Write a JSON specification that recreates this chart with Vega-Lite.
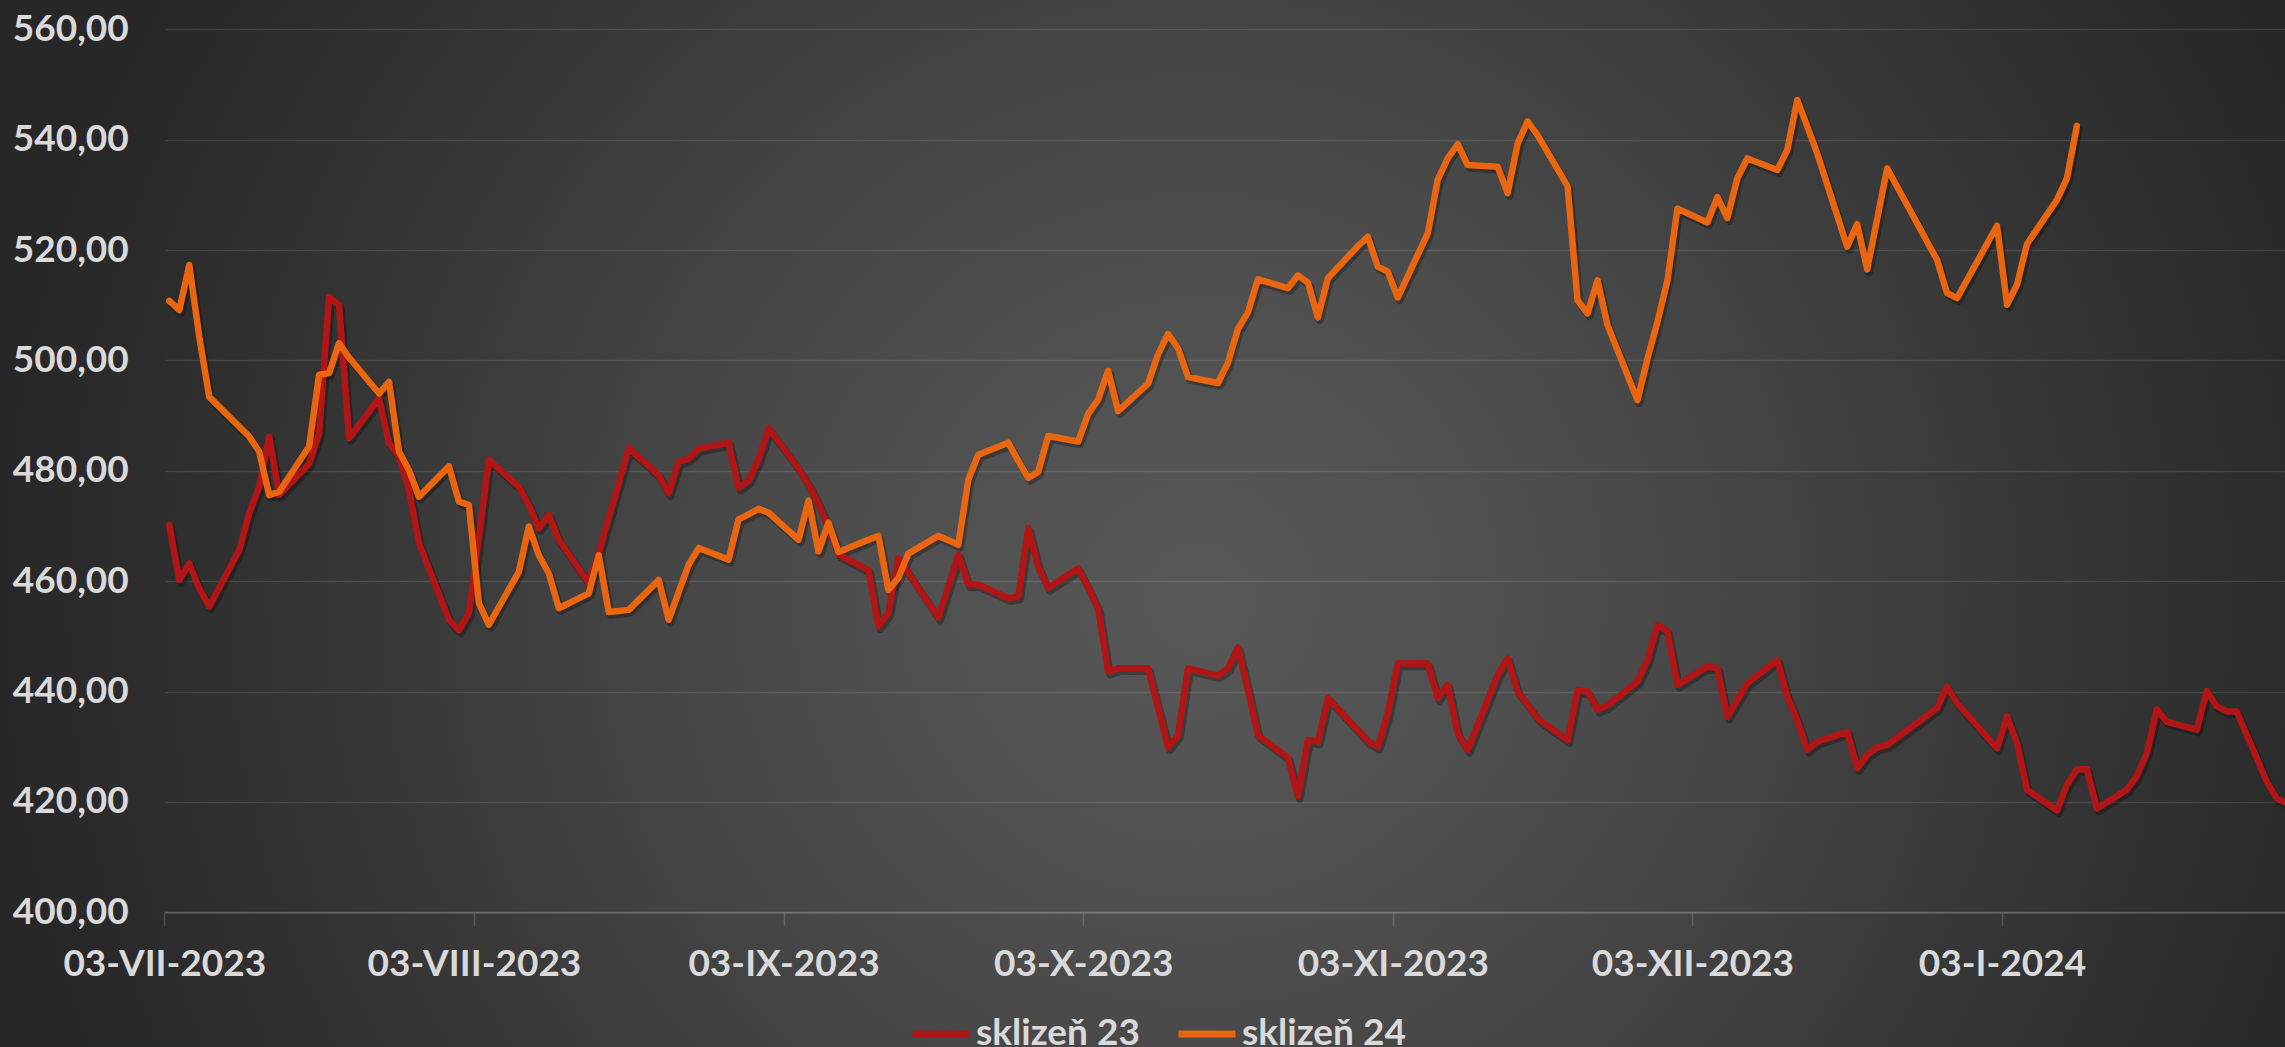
{
"$schema": "https://vega.github.io/schema/vega-lite/v6.json",
"width": 2285,
"height": 1047,
"autosize": {"type": "none"},
"padding": 0,
"background": "#2a2a2a",
"view": {"stroke": null, "fill": {"gradient": "radial", "x1": 0.525, "y1": 0.533, "r1": 0, "x2": 0.525, "y2": 0.533, "r2": 0.525, "stops": [
  {"offset": 0, "color": "#585858"},
  {"offset": 0.24, "color": "#505050"},
  {"offset": 0.34, "color": "#4b4b4b"},
  {"offset": 0.49, "color": "#434343"},
  {"offset": 0.61, "color": "#3c3c3c"},
  {"offset": 0.73, "color": "#353535"},
  {"offset": 0.92, "color": "#2b2b2b"},
  {"offset": 1, "color": "#272727"}]}},
"data": {"values": [
{"date":"2023-07-03","series":"sklizeň 23","value":470.2},
{"date":"2023-07-04","series":"sklizeň 23","value":460.2},
{"date":"2023-07-05","series":"sklizeň 23","value":463.2},
{"date":"2023-07-06","series":"sklizeň 23","value":458.7},
{"date":"2023-07-07","series":"sklizeň 23","value":455.4},
{"date":"2023-07-10","series":"sklizeň 23","value":465.6},
{"date":"2023-07-11","series":"sklizeň 23","value":472.3},
{"date":"2023-07-12","series":"sklizeň 23","value":477.1},
{"date":"2023-07-13","series":"sklizeň 23","value":486.2},
{"date":"2023-07-14","series":"sklizeň 23","value":475.6},
{"date":"2023-07-17","series":"sklizeň 23","value":481.3},
{"date":"2023-07-18","series":"sklizeň 23","value":486.8},
{"date":"2023-07-19","series":"sklizeň 23","value":511.5},
{"date":"2023-07-20","series":"sklizeň 23","value":510},
{"date":"2023-07-21","series":"sklizeň 23","value":485.9},
{"date":"2023-07-24","series":"sklizeň 23","value":493.1},
{"date":"2023-07-25","series":"sklizeň 23","value":485},
{"date":"2023-07-26","series":"sklizeň 23","value":482.6},
{"date":"2023-07-27","series":"sklizeň 23","value":476.5},
{"date":"2023-07-28","series":"sklizeň 23","value":466.9},
{"date":"2023-07-31","series":"sklizeň 23","value":453},
{"date":"2023-08-01","series":"sklizeň 23","value":451.1},
{"date":"2023-08-02","series":"sklizeň 23","value":454.2},
{"date":"2023-08-03","series":"sklizeň 23","value":468},
{"date":"2023-08-04","series":"sklizeň 23","value":482},
{"date":"2023-08-07","series":"sklizeň 23","value":477.1},
{"date":"2023-08-08","series":"sklizeň 23","value":473.8},
{"date":"2023-08-09","series":"sklizeň 23","value":469.6},
{"date":"2023-08-10","series":"sklizeň 23","value":472},
{"date":"2023-08-11","series":"sklizeň 23","value":467.5},
{"date":"2023-08-14","series":"sklizeň 23","value":459.6},
{"date":"2023-08-15","series":"sklizeň 23","value":465},
{"date":"2023-08-16","series":"sklizeň 23","value":471.5},
{"date":"2023-08-17","series":"sklizeň 23","value":477.7},
{"date":"2023-08-18","series":"sklizeň 23","value":484.1},
{"date":"2023-08-21","series":"sklizeň 23","value":479.2},
{"date":"2023-08-22","series":"sklizeň 23","value":475.9},
{"date":"2023-08-23","series":"sklizeň 23","value":481.6},
{"date":"2023-08-24","series":"sklizeň 23","value":482.2},
{"date":"2023-08-25","series":"sklizeň 23","value":484},
{"date":"2023-08-28","series":"sklizeň 23","value":485.1},
{"date":"2023-08-29","series":"sklizeň 23","value":476.9},
{"date":"2023-08-30","series":"sklizeň 23","value":478.2},
{"date":"2023-08-31","series":"sklizeň 23","value":482},
{"date":"2023-09-01","series":"sklizeň 23","value":487.7},
{"date":"2023-09-04","series":"sklizeň 23","value":480.4},
{"date":"2023-09-05","series":"sklizeň 23","value":477.5},
{"date":"2023-09-06","series":"sklizeň 23","value":474},
{"date":"2023-09-07","series":"sklizeň 23","value":469.8},
{"date":"2023-09-08","series":"sklizeň 23","value":464.8},
{"date":"2023-09-11","series":"sklizeň 23","value":462},
{"date":"2023-09-12","series":"sklizeň 23","value":451.8},
{"date":"2023-09-13","series":"sklizeň 23","value":454.3},
{"date":"2023-09-14","series":"sklizeň 23","value":464.2},
{"date":"2023-09-15","series":"sklizeň 23","value":461.5},
{"date":"2023-09-18","series":"sklizeň 23","value":453.4},
{"date":"2023-09-19","series":"sklizeň 23","value":459},
{"date":"2023-09-20","series":"sklizeň 23","value":464.8},
{"date":"2023-09-21","series":"sklizeň 23","value":459.4},
{"date":"2023-09-22","series":"sklizeň 23","value":459.4},
{"date":"2023-09-25","series":"sklizeň 23","value":456.9},
{"date":"2023-09-26","series":"sklizeň 23","value":457.2},
{"date":"2023-09-27","series":"sklizeň 23","value":469.6},
{"date":"2023-09-28","series":"sklizeň 23","value":462.6},
{"date":"2023-09-29","series":"sklizeň 23","value":458.8},
{"date":"2023-10-02","series":"sklizeň 23","value":462.3},
{"date":"2023-10-03","series":"sklizeň 23","value":458.8},
{"date":"2023-10-04","series":"sklizeň 23","value":455},
{"date":"2023-10-05","series":"sklizeň 23","value":443.6},
{"date":"2023-10-06","series":"sklizeň 23","value":444.2},
{"date":"2023-10-09","series":"sklizeň 23","value":444.2},
{"date":"2023-10-10","series":"sklizeň 23","value":437},
{"date":"2023-10-11","series":"sklizeň 23","value":429.9},
{"date":"2023-10-12","series":"sklizeň 23","value":432.1},
{"date":"2023-10-13","series":"sklizeň 23","value":444.2},
{"date":"2023-10-16","series":"sklizeň 23","value":442.9},
{"date":"2023-10-17","series":"sklizeň 23","value":444.2},
{"date":"2023-10-18","series":"sklizeň 23","value":448},
{"date":"2023-10-19","series":"sklizeň 23","value":440.2},
{"date":"2023-10-20","series":"sklizeň 23","value":432.1},
{"date":"2023-10-23","series":"sklizeň 23","value":428},
{"date":"2023-10-24","series":"sklizeň 23","value":421},
{"date":"2023-10-25","series":"sklizeň 23","value":431.2},
{"date":"2023-10-26","series":"sklizeň 23","value":430.9},
{"date":"2023-10-27","series":"sklizeň 23","value":438.8},
{"date":"2023-10-30","series":"sklizeň 23","value":433},
{"date":"2023-10-31","series":"sklizeň 23","value":431},
{"date":"2023-11-01","series":"sklizeň 23","value":430},
{"date":"2023-11-02","series":"sklizeň 23","value":436},
{"date":"2023-11-03","series":"sklizeň 23","value":445.1},
{"date":"2023-11-06","series":"sklizeň 23","value":445.1},
{"date":"2023-11-07","series":"sklizeň 23","value":438.8},
{"date":"2023-11-08","series":"sklizeň 23","value":441.2},
{"date":"2023-11-09","series":"sklizeň 23","value":432.4},
{"date":"2023-11-10","series":"sklizeň 23","value":429.4},
{"date":"2023-11-13","series":"sklizeň 23","value":443},
{"date":"2023-11-14","series":"sklizeň 23","value":446},
{"date":"2023-11-15","series":"sklizeň 23","value":440},
{"date":"2023-11-16","series":"sklizeň 23","value":437.6},
{"date":"2023-11-17","series":"sklizeň 23","value":435.1},
{"date":"2023-11-20","series":"sklizeň 23","value":431.2},
{"date":"2023-11-21","series":"sklizeň 23","value":440.3},
{"date":"2023-11-22","series":"sklizeň 23","value":440},
{"date":"2023-11-23","series":"sklizeň 23","value":436.7},
{"date":"2023-11-24","series":"sklizeň 23","value":437.5},
{"date":"2023-11-27","series":"sklizeň 23","value":441.8},
{"date":"2023-11-28","series":"sklizeň 23","value":445.7},
{"date":"2023-11-29","series":"sklizeň 23","value":452.1},
{"date":"2023-11-30","series":"sklizeň 23","value":450.9},
{"date":"2023-12-01","series":"sklizeň 23","value":441.2},
{"date":"2023-12-04","series":"sklizeň 23","value":444.6},
{"date":"2023-12-05","series":"sklizeň 23","value":444.2},
{"date":"2023-12-06","series":"sklizeň 23","value":435.4},
{"date":"2023-12-07","series":"sklizeň 23","value":438.5},
{"date":"2023-12-08","series":"sklizeň 23","value":441.5},
{"date":"2023-12-11","series":"sklizeň 23","value":445.7},
{"date":"2023-12-12","series":"sklizeň 23","value":439.1},
{"date":"2023-12-13","series":"sklizeň 23","value":434.8},
{"date":"2023-12-14","series":"sklizeň 23","value":429.4},
{"date":"2023-12-15","series":"sklizeň 23","value":430.9},
{"date":"2023-12-18","series":"sklizeň 23","value":432.7},
{"date":"2023-12-19","series":"sklizeň 23","value":426.1},
{"date":"2023-12-20","series":"sklizeň 23","value":428.5},
{"date":"2023-12-21","series":"sklizeň 23","value":429.9},
{"date":"2023-12-22","series":"sklizeň 23","value":430.3},
{"date":"2023-12-27","series":"sklizeň 23","value":437},
{"date":"2023-12-28","series":"sklizeň 23","value":440.9},
{"date":"2023-12-29","series":"sklizeň 23","value":437.9},
{"date":"2024-01-02","series":"sklizeň 23","value":429.7},
{"date":"2024-01-03","series":"sklizeň 23","value":435.5},
{"date":"2024-01-04","series":"sklizeň 23","value":430.7},
{"date":"2024-01-05","series":"sklizeň 23","value":422.2},
{"date":"2024-01-08","series":"sklizeň 23","value":418.5},
{"date":"2024-01-09","series":"sklizeň 23","value":423.1},
{"date":"2024-01-10","series":"sklizeň 23","value":425.9},
{"date":"2024-01-11","series":"sklizeň 23","value":425.9},
{"date":"2024-01-12","series":"sklizeň 23","value":418.8},
{"date":"2024-01-15","series":"sklizeň 23","value":422.2},
{"date":"2024-01-16","series":"sklizeň 23","value":424.7},
{"date":"2024-01-17","series":"sklizeň 23","value":428.8},
{"date":"2024-01-18","series":"sklizeň 23","value":436.8},
{"date":"2024-01-19","series":"sklizeň 23","value":434.5},
{"date":"2024-01-22","series":"sklizeň 23","value":433.1},
{"date":"2024-01-23","series":"sklizeň 23","value":440.1},
{"date":"2024-01-24","series":"sklizeň 23","value":437.3},
{"date":"2024-01-25","series":"sklizeň 23","value":436.4},
{"date":"2024-01-26","series":"sklizeň 23","value":436.4},
{"date":"2024-01-29","series":"sklizeň 23","value":423.7},
{"date":"2024-01-30","series":"sklizeň 23","value":420.6},
{"date":"2024-01-31","series":"sklizeň 23","value":419.8},
{"date":"2023-07-03","series":"sklizeň 24","value":510.8},
{"date":"2023-07-04","series":"sklizeň 24","value":509.1},
{"date":"2023-07-05","series":"sklizeň 24","value":517.3},
{"date":"2023-07-06","series":"sklizeň 24","value":504.3},
{"date":"2023-07-07","series":"sklizeň 24","value":493.4},
{"date":"2023-07-10","series":"sklizeň 24","value":488},
{"date":"2023-07-11","series":"sklizeň 24","value":486.2},
{"date":"2023-07-12","series":"sklizeň 24","value":483.5},
{"date":"2023-07-13","series":"sklizeň 24","value":475.6},
{"date":"2023-07-14","series":"sklizeň 24","value":476.2},
{"date":"2023-07-17","series":"sklizeň 24","value":484.4},
{"date":"2023-07-18","series":"sklizeň 24","value":497.4},
{"date":"2023-07-19","series":"sklizeň 24","value":497.7},
{"date":"2023-07-20","series":"sklizeň 24","value":503.1},
{"date":"2023-07-21","series":"sklizeň 24","value":500.5},
{"date":"2023-07-24","series":"sklizeň 24","value":494},
{"date":"2023-07-25","series":"sklizeň 24","value":496.1},
{"date":"2023-07-26","series":"sklizeň 24","value":483.5},
{"date":"2023-07-27","series":"sklizeň 24","value":480.1},
{"date":"2023-07-28","series":"sklizeň 24","value":475.3},
{"date":"2023-07-31","series":"sklizeň 24","value":480.8},
{"date":"2023-08-01","series":"sklizeň 24","value":474.4},
{"date":"2023-08-02","series":"sklizeň 24","value":473.8},
{"date":"2023-08-03","series":"sklizeň 24","value":456},
{"date":"2023-08-04","series":"sklizeň 24","value":452.1},
{"date":"2023-08-07","series":"sklizeň 24","value":461.7},
{"date":"2023-08-08","series":"sklizeň 24","value":469.9},
{"date":"2023-08-09","series":"sklizeň 24","value":464.7},
{"date":"2023-08-10","series":"sklizeň 24","value":461.4},
{"date":"2023-08-11","series":"sklizeň 24","value":455.1},
{"date":"2023-08-14","series":"sklizeň 24","value":457.8},
{"date":"2023-08-15","series":"sklizeň 24","value":464.7},
{"date":"2023-08-16","series":"sklizeň 24","value":454.4},
{"date":"2023-08-17","series":"sklizeň 24","value":454.6},
{"date":"2023-08-18","series":"sklizeň 24","value":454.8},
{"date":"2023-08-21","series":"sklizeň 24","value":460.2},
{"date":"2023-08-22","series":"sklizeň 24","value":453},
{"date":"2023-08-23","series":"sklizeň 24","value":458},
{"date":"2023-08-24","series":"sklizeň 24","value":463},
{"date":"2023-08-25","series":"sklizeň 24","value":466},
{"date":"2023-08-28","series":"sklizeň 24","value":463.9},
{"date":"2023-08-29","series":"sklizeň 24","value":471.2},
{"date":"2023-08-30","series":"sklizeň 24","value":472.1},
{"date":"2023-08-31","series":"sklizeň 24","value":473.1},
{"date":"2023-09-01","series":"sklizeň 24","value":472.4},
{"date":"2023-09-04","series":"sklizeň 24","value":467.5},
{"date":"2023-09-05","series":"sklizeň 24","value":474.6},
{"date":"2023-09-06","series":"sklizeň 24","value":465.4},
{"date":"2023-09-07","series":"sklizeň 24","value":470.6},
{"date":"2023-09-08","series":"sklizeň 24","value":465.3},
{"date":"2023-09-11","series":"sklizeň 24","value":467.5},
{"date":"2023-09-12","series":"sklizeň 24","value":468.2},
{"date":"2023-09-13","series":"sklizeň 24","value":458.4},
{"date":"2023-09-14","series":"sklizeň 24","value":460.6},
{"date":"2023-09-15","series":"sklizeň 24","value":465},
{"date":"2023-09-18","series":"sklizeň 24","value":468.2},
{"date":"2023-09-19","series":"sklizeň 24","value":467.4},
{"date":"2023-09-20","series":"sklizeň 24","value":466.6},
{"date":"2023-09-21","series":"sklizeň 24","value":478.4},
{"date":"2023-09-22","series":"sklizeň 24","value":482.9},
{"date":"2023-09-25","series":"sklizeň 24","value":485.1},
{"date":"2023-09-26","series":"sklizeň 24","value":481.8},
{"date":"2023-09-27","series":"sklizeň 24","value":478.7},
{"date":"2023-09-28","series":"sklizeň 24","value":479.8},
{"date":"2023-09-29","series":"sklizeň 24","value":486.3},
{"date":"2023-10-02","series":"sklizeň 24","value":485.3},
{"date":"2023-10-03","series":"sklizeň 24","value":490.3},
{"date":"2023-10-04","series":"sklizeň 24","value":492.9},
{"date":"2023-10-05","series":"sklizeň 24","value":498.1},
{"date":"2023-10-06","series":"sklizeň 24","value":490.8},
{"date":"2023-10-09","series":"sklizeň 24","value":495.8},
{"date":"2023-10-10","series":"sklizeň 24","value":501.1},
{"date":"2023-10-11","series":"sklizeň 24","value":504.8},
{"date":"2023-10-12","series":"sklizeň 24","value":502.2},
{"date":"2023-10-13","series":"sklizeň 24","value":497},
{"date":"2023-10-16","series":"sklizeň 24","value":495.9},
{"date":"2023-10-17","series":"sklizeň 24","value":499.6},
{"date":"2023-10-18","series":"sklizeň 24","value":505.7},
{"date":"2023-10-19","series":"sklizeň 24","value":508.7},
{"date":"2023-10-20","series":"sklizeň 24","value":514.7},
{"date":"2023-10-23","series":"sklizeň 24","value":513.1},
{"date":"2023-10-24","series":"sklizeň 24","value":515.4},
{"date":"2023-10-25","series":"sklizeň 24","value":514.1},
{"date":"2023-10-26","series":"sklizeň 24","value":507.8},
{"date":"2023-10-27","series":"sklizeň 24","value":514.9},
{"date":"2023-10-30","series":"sklizeň 24","value":520.7},
{"date":"2023-10-31","series":"sklizeň 24","value":522.4},
{"date":"2023-11-01","series":"sklizeň 24","value":517},
{"date":"2023-11-02","series":"sklizeň 24","value":516.1},
{"date":"2023-11-03","series":"sklizeň 24","value":511.4},
{"date":"2023-11-06","series":"sklizeň 24","value":523},
{"date":"2023-11-07","series":"sklizeň 24","value":532.7},
{"date":"2023-11-08","series":"sklizeň 24","value":536.6},
{"date":"2023-11-09","series":"sklizeň 24","value":539.2},
{"date":"2023-11-10","series":"sklizeň 24","value":535.4},
{"date":"2023-11-13","series":"sklizeň 24","value":535.1},
{"date":"2023-11-14","series":"sklizeň 24","value":530.3},
{"date":"2023-11-15","series":"sklizeň 24","value":539.3},
{"date":"2023-11-16","series":"sklizeň 24","value":543.3},
{"date":"2023-11-17","series":"sklizeň 24","value":540.8},
{"date":"2023-11-20","series":"sklizeň 24","value":531.6},
{"date":"2023-11-21","series":"sklizeň 24","value":510.9},
{"date":"2023-11-22","series":"sklizeň 24","value":508.5},
{"date":"2023-11-23","series":"sklizeň 24","value":514.5},
{"date":"2023-11-24","series":"sklizeň 24","value":506.4},
{"date":"2023-11-27","series":"sklizeň 24","value":492.8},
{"date":"2023-11-28","series":"sklizeň 24","value":500.3},
{"date":"2023-11-29","series":"sklizeň 24","value":507},
{"date":"2023-11-30","series":"sklizeň 24","value":514.5},
{"date":"2023-12-01","series":"sklizeň 24","value":527.5},
{"date":"2023-12-04","series":"sklizeň 24","value":525},
{"date":"2023-12-05","series":"sklizeň 24","value":529.6},
{"date":"2023-12-06","series":"sklizeň 24","value":525.8},
{"date":"2023-12-07","series":"sklizeň 24","value":533},
{"date":"2023-12-08","series":"sklizeň 24","value":536.6},
{"date":"2023-12-11","series":"sklizeň 24","value":534.5},
{"date":"2023-12-12","series":"sklizeň 24","value":538.1},
{"date":"2023-12-13","series":"sklizeň 24","value":547.2},
{"date":"2023-12-14","series":"sklizeň 24","value":542.4},
{"date":"2023-12-15","series":"sklizeň 24","value":537.5},
{"date":"2023-12-18","series":"sklizeň 24","value":520.6},
{"date":"2023-12-19","series":"sklizeň 24","value":524.7},
{"date":"2023-12-20","series":"sklizeň 24","value":516.5},
{"date":"2023-12-21","series":"sklizeň 24","value":525.6},
{"date":"2023-12-22","series":"sklizeň 24","value":534.8},
{"date":"2023-12-27","series":"sklizeň 24","value":518.2},
{"date":"2023-12-28","series":"sklizeň 24","value":512.2},
{"date":"2023-12-29","series":"sklizeň 24","value":511.3},
{"date":"2024-01-02","series":"sklizeň 24","value":524.4},
{"date":"2024-01-03","series":"sklizeň 24","value":510.1},
{"date":"2024-01-04","series":"sklizeň 24","value":513.7},
{"date":"2024-01-05","series":"sklizeň 24","value":521.1},
{"date":"2024-01-08","series":"sklizeň 24","value":529.1},
{"date":"2024-01-09","series":"sklizeň 24","value":533},
{"date":"2024-01-10","series":"sklizeň 24","value":542.5}
]},
"encoding": {
  "x": {"field": "date", "type": "temporal", "timeUnit": "utcyearmonthdate", "bandPosition": 0.5,
    "scale": {"type": "utc", "nice": false, "range": [164.3, 2285],
      "domain": [{"year": 2023, "month": 7, "date": 3, "utc": true}, {"year": 2024, "month": 1, "date": 31, "hours": 8, "utc": true}]},
    "axis": {"orient": "bottom", "offset": -134.7, "title": null, "grid": false,
      "values": [
        {"year": 2023, "month": 7, "date": 3, "utc": true},
        {"year": 2023, "month": 8, "date": 3, "utc": true},
        {"year": 2023, "month": 9, "date": 3, "utc": true},
        {"year": 2023, "month": 10, "date": 3, "utc": true},
        {"year": 2023, "month": 11, "date": 3, "utc": true},
        {"year": 2023, "month": 12, "date": 3, "utc": true},
        {"year": 2024, "month": 1, "date": 3, "utc": true}],
      "labelExpr": "utcFormat(datum.value, '%d') + '-' + ['I','II','III','IV','V','VI','VII','VIII','IX','X','XI','XII'][utcmonth(datum.value)] + '-' + utcFormat(datum.value, '%Y')",
      "domain": true, "domainColor": "#ffffff", "domainOpacity": 0.16, "domainWidth": 2,
      "ticks": true, "tickColor": "#ffffff", "tickOpacity": 0.16, "tickSize": 13, "tickWidth": 1.5,
      "labelFont": "Lato", "labelFontSize": 37, "labelFontWeight": "bold", "labelColor": "#d9d9d9",
      "labelPadding": 21, "labelFlush": false, "labelOverlap": false, "labelBound": false, "labelLimit": 600}},
  "y": {"field": "value", "type": "quantitative",
    "scale": {"domain": [400, 560], "range": [912.3, 29.3], "nice": false, "zero": false},
    "axis": {"orient": "left", "offset": -164.3, "title": null,
      "values": [400, 420, 440, 460, 480, 500, 520, 540, 560],
      "labelExpr": "replace(format(datum.value, '.2f'), '.', ',')",
      "grid": true, "gridColor": "#ffffff", "gridOpacity": 0.1, "gridWidth": 1.5,
      "domain": false, "ticks": false,
      "labelFont": "Lato", "labelFontSize": 37, "labelFontWeight": "bold", "labelColor": "#d9d9d9",
      "labelPadding": 36, "labelOverlap": false, "labelLimit": 600}}
},
"layer": [
  {"mark": {"type": "line", "color": "#000000", "opacity": 0.28, "strokeWidth": 7.5, "xOffset": 2, "yOffset": 3, "strokeJoin": "round", "strokeCap": "round"},
   "encoding": {"detail": {"field": "series"}}},
  {"mark": {"type": "line", "strokeWidth": 6.5, "strokeJoin": "round", "strokeCap": "round"},
   "encoding": {"color": {"field": "series", "type": "nominal",
     "scale": {"domain": ["sklizeň 23", "sklizeň 24"], "range": ["#b11515", "#e9650f"]},
     "legend": {"title": null, "orient": "none", "legendX": 909, "legendY": 1002, "direction": "horizontal", "columns": 2,
       "symbolType": "stroke", "symbolSize": 3249, "symbolStrokeWidth": 7,
       "labelFont": "Lato", "labelFontSize": 37, "labelFontWeight": "bold", "labelColor": "#d9d9d9",
       "labelOffset": 3, "columnPadding": 24, "padding": 0, "labelLimit": 600}}}}
]
}
